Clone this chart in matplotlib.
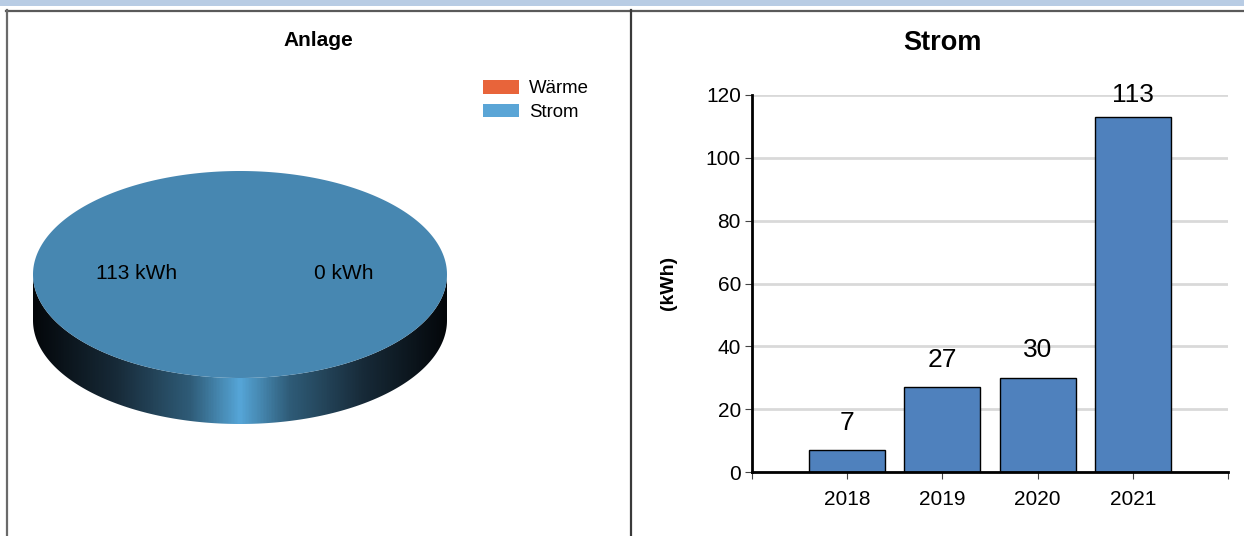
import numpy as np
import matplotlib.pyplot as plt
from matplotlib.patches import Polygon, Rectangle, Patch
from matplotlib.colors import LinearSegmentedColormap

plt.rcParams['font.family'] = ['Liberation Sans', 'DejaVu Sans']

# data
pie_labels = ['Wärme', 'Strom']
pie_values = [0, 113]
pie_colors = ['#e8643a', '#4787b1']
legend_colors = ['#e8643a', '#5aa5d6']

years = ['2018', '2019', '2020', '2021']
strom = [7, 27, 30, 113]

W, H = 1244, 536
fig = plt.figure(figsize=(W / 100, H / 100), dpi=100)

# background axes in pixel coordinates
bg = fig.add_axes([0, 0, 1, 1])
bg.set_xlim(0, W)
bg.set_ylim(H, 0)
bg.axis('off')

bg.add_patch(Rectangle((0, 0), W, 6, color='#b8cce4', lw=0))
bg.plot([6, W], [10.5, 10.5], color='#5a5a5a', lw=1.6)
bg.plot([6.5, 6.5], [10, H], color='#6a6a6a', lw=1.6)
bg.plot([631, 631], [10, H], color='#3a3a3a', lw=1.6)

bg.text(318, 40, 'Anlage', ha='center', va='center', fontsize=15, fontweight='bold')

# 3d-looking pie
cx, cy, a, b, depth = 240, 274.5, 207, 103.5, 46
t = np.linspace(0, np.pi, 200)
side = np.concatenate([
    np.column_stack([cx + a * np.cos(t), cy + b * np.sin(t)]),
    np.column_stack([cx + a * np.cos(t[::-1]), cy + depth + b * np.sin(t[::-1])]),
])
clip = Polygon(side, closed=True, facecolor='none', edgecolor='none')
bg.add_patch(clip)
cmap = LinearSegmentedColormap.from_list('side', [
    (0.0, '#04070a'), (0.2, '#172a38'), (0.38, '#2f5c78'),
    (0.5, '#56a6d8'), (0.62, '#2f5c78'), (0.8, '#172a38'), (1.0, '#04070a')])
grad = np.linspace(0, 1, 400).reshape(1, -1)
img = bg.imshow(grad, cmap=cmap, aspect='auto',
                extent=(cx - a, cx + a, cy + depth + b + 2, cy - 2), zorder=2)
img.set_clip_path(clip)
bg.set_xlim(0, W)
bg.set_ylim(H, 0)

total = sum(pie_values)
start = 0.0
for lab, val, col in zip(pie_labels, pie_values, pie_colors):
    span = 2 * np.pi * val / total
    mid = start + span / 2
    if span > 0:
        tt = np.linspace(start, start + span, 400)
        pts = np.column_stack([cx + a * np.cos(tt), cy + b * np.sin(tt)])
        if span < 2 * np.pi:
            pts = np.vstack([[cx, cy], pts])
        bg.add_patch(Polygon(pts, closed=True, facecolor=col, edgecolor='none', zorder=3))
    bg.text(cx + 0.5 * a * np.cos(mid), cy - 1 + 0.5 * b * np.sin(mid), f'{val} kWh',
            ha='center', va='center', fontsize=15, zorder=4)
    start += span

handles = [Patch(facecolor=c, edgecolor='none') for c in legend_colors]
fig.legend(handles, pie_labels, loc='upper left', bbox_to_anchor=(483 / W, 1 - 80 / H),
           frameon=False, fontsize=13.4, handlelength=1.95, handleheight=0.75,
           labelspacing=0.34, handletextpad=0.5, borderaxespad=0, borderpad=0)

# bar chart
ax = fig.add_axes([752 / W, (H - 472) / H, 476 / W, (472 - 95) / H])
x = np.arange(len(years))
bars = ax.bar(x, strom, width=0.8, color='#4f81bd', edgecolor='black', lw=1, zorder=3)
for xi, v in zip(x, strom):
    ax.annotate(str(v), (xi, v), xytext=(0, 11 if v < 100 else 7), textcoords='offset points',
                ha='center', va='bottom', fontsize=19)
ax.set_xlim(-1, 4)
ax.set_ylim(0, 120)
ax.set_yticks(range(0, 121, 20))
ax.set_xticks(range(-1, 5))
ax.set_xticklabels([''] + years + [''])
ax.tick_params(labelsize=15, length=5, color='#444444', pad=3)
ax.tick_params(axis='x', pad=8)
ax.grid(axis='y', color='#d9d9d9', lw=2, zorder=0)
for s in ['top', 'right']:
    ax.spines[s].set_visible(False)
for s in ['left', 'bottom']:
    ax.spines[s].set_linewidth(2)
    ax.spines[s].set_zorder(4)
ax.set_facecolor('none')

fig.text(942 / W, 1 - 43 / H, 'Strom', ha='center', va='center', fontsize=19.5, fontweight='bold')
fig.text(668 / W, 1 - 283 / H, '(kWh)', ha='center', va='center', rotation=90,
         fontsize=14, fontweight='bold')

fig.savefig('out.png', dpi=100)
